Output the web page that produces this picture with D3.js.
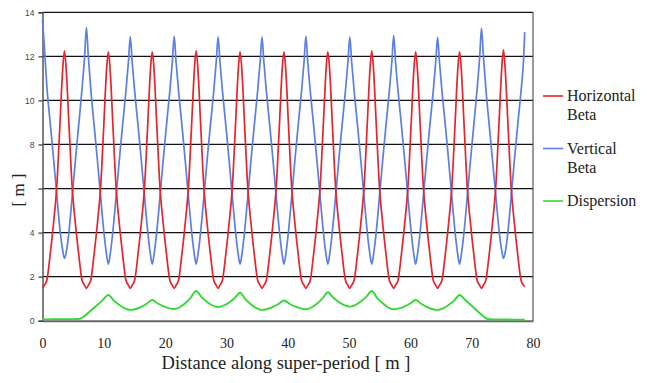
<!DOCTYPE html>
<html><head><meta charset="utf-8">
<script src="https://cdn.jsdelivr.net/npm/d3@7"></script>
<style>
html,body{margin:0;padding:0;background:#fff;}svg{display:block;}
.serif{font-family:'Liberation Serif','DejaVu Serif','Times New Roman',serif;}
.sans{font-family:'Liberation Sans',Arial,sans-serif;}
</style>
</head><body>
<svg id="chart" width="647" height="383"></svg>
<script>
// ---- data ----
const distance = [
0, 0.29, 0.72, 1.25, 1.79, 2.33, 2.86, 3.29, 3.58, 3.87, 4.30, 4.83, 5.37, 5.91, 6.44, 6.87,
7.16, 7.45, 7.88, 8.41, 8.95, 9.49, 10.02, 10.45, 10.74, 11.03, 11.46, 11.99, 12.53, 13.07, 13.60, 14.03,
14.32, 14.61, 15.04, 15.57, 16.11, 16.65, 17.18, 17.61, 17.90, 18.19, 18.62, 19.15, 19.69, 20.23, 20.76, 21.19,
21.48, 21.77, 22.20, 22.73, 23.27, 23.81, 24.34, 24.77, 25.06, 25.35, 25.78, 26.31, 26.85, 27.39, 27.92, 28.35,
28.64, 28.93, 29.36, 29.89, 30.43, 30.97, 31.50, 31.93, 32.22, 32.51, 32.94, 33.47, 34.01, 34.55, 35.08, 35.51,
35.80, 36.09, 36.52, 37.05, 37.59, 38.13, 38.66, 39.09, 39.38, 39.67, 40.10, 40.63, 41.17, 41.71, 42.24, 42.67,
42.96, 43.25, 43.68, 44.21, 44.75, 45.29, 45.82, 46.25, 46.54, 46.83, 47.26, 47.79, 48.33, 48.87, 49.40, 49.83,
50.12, 50.41, 50.84, 51.37, 51.91, 52.45, 52.98, 53.41, 53.70, 53.99, 54.42, 54.95, 55.49, 56.03, 56.56, 56.99,
57.28, 57.57, 58.00, 58.53, 59.07, 59.61, 60.14, 60.57, 60.86, 61.15, 61.58, 62.11, 62.65, 63.19, 63.72, 64.15,
64.44, 64.73, 65.16, 65.69, 66.23, 66.77, 67.30, 67.73, 68.02, 68.31, 68.74, 69.27, 69.81, 70.35, 70.88, 71.31,
71.60, 71.89, 72.32, 72.85, 73.39, 73.93, 74.46, 74.89, 75.18, 75.47, 75.90, 76.43, 76.97, 77.51, 78.04, 78.47,
78.65];

const horizontalBeta = [
1.47, 1.6, 1.85, 3.0, 4.4, 6.1, 9.0, 11.4, 12.25, 11.4, 9.0, 6.1, 4.4, 3.0, 1.85, 1.6,
1.47, 1.6, 1.85, 3.0, 4.4, 6.1, 9.0, 11.4, 12.2, 11.4, 9.0, 6.1, 4.4, 3.0, 1.85, 1.6,
1.47, 1.6, 1.85, 3.0, 4.4, 6.1, 9.0, 11.4, 12.2, 11.4, 9.0, 6.1, 4.4, 3.0, 1.85, 1.6,
1.47, 1.6, 1.85, 3.0, 4.4, 6.1, 9.0, 11.4, 12.25, 11.4, 9.0, 6.1, 4.4, 3.0, 1.85, 1.6,
1.47, 1.6, 1.85, 3.0, 4.4, 6.1, 9.0, 11.4, 12.2, 11.4, 9.0, 6.1, 4.4, 3.0, 1.85, 1.6,
1.47, 1.6, 1.85, 3.0, 4.4, 6.1, 9.0, 11.4, 12.2, 11.4, 9.0, 6.1, 4.4, 3.0, 1.85, 1.6,
1.47, 1.6, 1.85, 3.0, 4.4, 6.1, 9.0, 11.4, 12.2, 11.4, 9.0, 6.1, 4.4, 3.0, 1.85, 1.6,
1.47, 1.6, 1.85, 3.0, 4.4, 6.1, 9.0, 11.4, 12.25, 11.4, 9.0, 6.1, 4.4, 3.0, 1.85, 1.6,
1.47, 1.6, 1.85, 3.0, 4.4, 6.1, 9.0, 11.4, 12.2, 11.4, 9.0, 6.1, 4.4, 3.0, 1.85, 1.6,
1.47, 1.6, 1.85, 3.0, 4.4, 6.1, 9.0, 11.4, 12.2, 11.4, 9.0, 6.1, 4.4, 3.0, 1.85, 1.6,
1.47, 1.6, 1.85, 3.0, 4.4, 6.1, 9.0, 11.4, 12.3, 11.4, 9.0, 6.1, 4.4, 3.0, 1.85, 1.6,
1.55];

const verticalBeta = [
13.65, 12.5, 10.6, 9.0, 7.4, 5.7, 4.1, 3.2, 2.83, 3.1, 4.0, 5.6, 7.3, 8.9, 10.5, 12.0,
13.3, 12.1, 10.5, 8.9, 7.3, 5.6, 4.0, 3.0, 2.57, 3.0, 4.0, 5.6, 7.3, 8.9, 10.4, 11.8,
12.9, 11.8, 10.4, 8.9, 7.3, 5.6, 4.0, 3.0, 2.57, 3.0, 4.0, 5.6, 7.3, 8.9, 10.4, 11.8,
12.92, 11.8, 10.4, 8.9, 7.3, 5.6, 4.0, 3.0, 2.57, 3.0, 4.0, 5.6, 7.3, 8.9, 10.4, 11.8,
12.89, 11.8, 10.4, 8.9, 7.3, 5.6, 4.0, 3.0, 2.57, 3.0, 4.0, 5.6, 7.3, 8.9, 10.4, 11.8,
12.89, 11.8, 10.4, 8.9, 7.3, 5.6, 4.0, 3.0, 2.57, 3.0, 4.0, 5.6, 7.3, 8.9, 10.4, 11.8,
12.92, 11.8, 10.4, 8.9, 7.3, 5.6, 4.0, 3.0, 2.57, 3.0, 4.0, 5.6, 7.3, 8.9, 10.4, 11.8,
12.89, 11.8, 10.4, 8.9, 7.3, 5.6, 4.0, 3.0, 2.57, 3.0, 4.0, 5.6, 7.3, 8.9, 10.4, 11.8,
12.95, 11.8, 10.4, 8.9, 7.3, 5.6, 4.0, 3.0, 2.57, 3.0, 4.0, 5.6, 7.3, 8.9, 10.4, 11.8,
12.86, 11.8, 10.4, 8.9, 7.3, 5.6, 4.0, 3.0, 2.57, 3.0, 4.0, 5.6, 7.3, 8.9, 10.5, 12.0,
13.27, 12.1, 10.5, 8.9, 7.3, 5.7, 4.1, 3.2, 2.83, 3.1, 4.0, 5.6, 7.3, 8.9, 10.4, 11.9,
13.1];

const dispersionDistance = [
0, 2, 4, 5.9, 6.8, 7.7, 8.7, 9.7, 10.74,
11.64, 12.53, 13.43, 14.32, 15.22, 16.11, 17.0, 17.9,
18.8, 19.69, 20.58, 21.48, 22.38, 23.27, 24.16, 25.06,
25.96, 26.85, 27.74, 28.64, 29.54, 30.43, 31.32, 32.22,
33.12, 34.01, 34.9, 35.8, 36.7, 37.59, 38.48, 39.38,
40.28, 41.17, 42.06, 42.96, 43.86, 44.75, 45.64, 46.54,
47.44, 48.33, 49.22, 50.12, 51.02, 51.91, 52.8, 53.7,
54.6, 55.49, 56.38, 57.28, 58.18, 59.07, 59.96, 60.86,
61.76, 62.65, 63.54, 64.44, 65.34, 66.23, 67.12, 68.02,
69.0, 70.0, 71.0, 72.0, 72.6, 73.5, 75.0, 77.0, 78.65];

const dispersion = [
0.06, 0.07, 0.07, 0.08, 0.2, 0.42, 0.66, 0.9, 1.17,
0.91, 0.71, 0.56, 0.49, 0.53, 0.63, 0.77, 0.94,
0.78, 0.66, 0.57, 0.53, 0.61, 0.79, 1.04, 1.35,
1.07, 0.85, 0.69, 0.62, 0.69, 0.83, 1.02, 1.27,
0.97, 0.74, 0.57, 0.49, 0.53, 0.63, 0.76, 0.92,
0.77, 0.65, 0.56, 0.52, 0.6, 0.77, 1.0, 1.29,
1.04, 0.85, 0.71, 0.64, 0.71, 0.87, 1.08, 1.35,
1.03, 0.79, 0.6, 0.52, 0.56, 0.65, 0.78, 0.94,
0.77, 0.63, 0.53, 0.49, 0.56, 0.71, 0.91, 1.17,
0.93, 0.68, 0.42, 0.18, 0.08, 0.06, 0.06, 0.05, 0.05];

const xTicks = [0, 10, 20, 30, 40, 50, 60, 70, 80];
const yTicks = [0, 2, 4, 6, 8, 10, 12, 14];
const yTickLabels = ["0", "2", "4", "", "8", "10", "12", "14"];
const seriesNames = ["Horizontal\nBeta", "Vertical\nBeta", "Dispersion"];
const seriesColors = ["#e8232b", "#5b7fe3", "#35d935"];

// ---- drawing ----
const svg = d3.select("#chart");
const pLeft = 42.5, pRight = 533, pTop = 12.3, pBottom = 320.7;
const x = d3.scaleLinear().domain([0, 80]).range([pLeft, pRight]);
const y = d3.scaleLinear().domain([0, 14]).range([pBottom, pTop]);

svg.append("rect").attr("x", pLeft).attr("y", pTop).attr("width", pRight - pLeft).attr("height", pBottom - pTop)
  .attr("fill", "#fff");

// grid lines
svg.append("g").selectAll("line").data(yTicks.filter(d => d > 0)).join("line")
  .attr("x1", pLeft).attr("x2", pRight).attr("y1", d => y(d)).attr("y2", d => y(d))
  .attr("stroke", "#111").attr("stroke-width", 1.3);

// right border
svg.append("line").attr("x1", pRight).attr("x2", pRight).attr("y1", pTop).attr("y2", pBottom)
  .attr("stroke", "#555").attr("stroke-width", 1.2);

// y axis
const yAxis = d3.axisLeft(y).tickValues(yTicks).tickSize(4).tickPadding(4)
  .tickFormat((d, i) => yTickLabels[i]);
const gy = svg.append("g").attr("transform", `translate(${pLeft},0)`).call(yAxis);
gy.attr("font-family", null);
gy.select(".domain").attr("stroke", "#555").attr("stroke-width", 1.5);
gy.selectAll(".tick line").attr("stroke", "#333").attr("stroke-width", 1.2);
gy.selectAll(".tick text").attr("class", "sans")
  .attr("font-size", 8.5).attr("fill", "#444");

// x axis
const xAxis = d3.axisBottom(x).tickValues(xTicks).tickSize(0).tickPadding(0).tickFormat(d3.format("d"));
const gx = svg.append("g").attr("transform", `translate(0,${pBottom})`).call(xAxis);
gx.attr("font-family", null);
gx.select(".domain").attr("stroke", "#666").attr("stroke-width", 2);
gx.selectAll(".tick text").attr("class", "serif")
  .attr("font-size", 14).attr("fill", "#222").attr("dy", null).attr("y", 27.5);

// series
const lineGen = d3.line().curve(d3.curveMonotoneX);
const redPts = distance.map((d, i) => [x(d), y(horizontalBeta[i])]);
const bluePts = distance.map((d, i) => [x(d), y(verticalBeta[i])]);
const greenPts = dispersionDistance.map((d, i) => [x(d), y(dispersion[i])]);

const plot = svg.append("g");
plot.append("path").attr("d", lineGen(bluePts)).attr("fill", "none")
  .attr("stroke", seriesColors[1]).attr("stroke-width", 1.7);
plot.append("path").attr("d", lineGen(redPts)).attr("fill", "none")
  .attr("stroke", seriesColors[0]).attr("stroke-width", 1.7);
plot.append("path").attr("d", lineGen(greenPts)).attr("fill", "none")
  .attr("stroke", seriesColors[2]).attr("stroke-width", 1.9);

// axis titles
svg.append("text").attr("class", "serif").attr("x", 286).attr("y", 369).attr("text-anchor", "middle")
  .attr("font-size", 18.5).attr("fill", "#222")
  .text("Distance along super-period [ m ]");
svg.append("text").attr("class", "serif").attr("transform", "translate(24,190) rotate(-90)").attr("text-anchor", "middle")
  .attr("font-size", 17).attr("fill", "#222")
  .text("[ m ]");

// legend
const legendY = [96, 148.5, 201];
const lg = svg.append("g");
seriesNames.forEach((name, i) => {
  lg.append("line").attr("x1", 543).attr("x2", 563).attr("y1", legendY[i]).attr("y2", legendY[i])
    .attr("stroke", seriesColors[i]).attr("stroke-width", 1.6);
  const t = lg.append("text").attr("class", "serif").attr("x", 567).attr("y", legendY[i] + 5)
    .attr("font-size", 16).attr("fill", "#222");
  name.split("\n").forEach((part, j) => {
    t.append("tspan").attr("x", 567).attr("dy", j === 0 ? 0 : 19).text(part);
  });
});
</script>
</body></html>
